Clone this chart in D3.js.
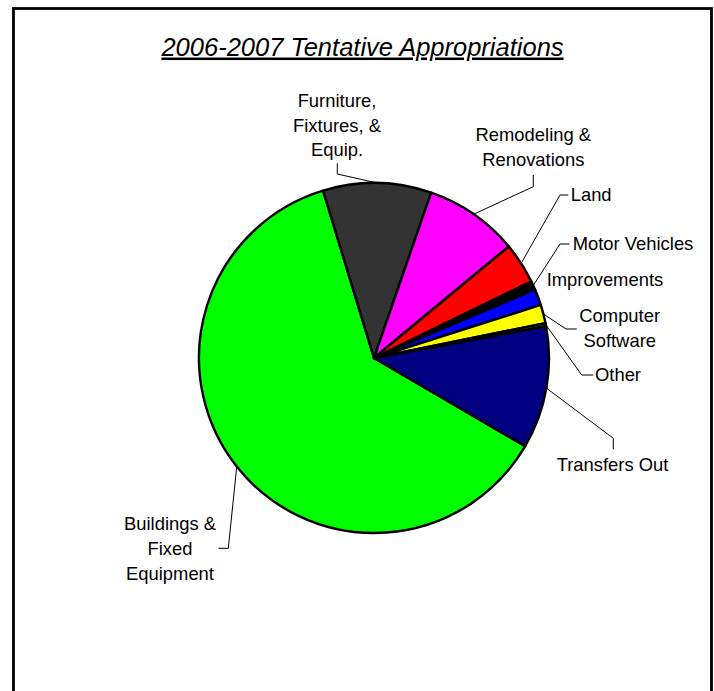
<!DOCTYPE html>
<html>
<head>
<meta charset="utf-8">
<script src="https://cdn.jsdelivr.net/npm/d3@7/dist/d3.min.js"></script>
<style>
  html, body { margin: 0; padding: 0; background: #fff; }
  svg { display: block; font-family: "Liberation Sans", Arial, sans-serif; }
</style>
</head>
<body>
<svg id="chart" width="714" height="691"></svg>
<script>
// Appropriation categories, in drawing order (clockwise)
const categories = [
  "Buildings & Fixed Equipment",
  "Furniture, Fixtures, & Equip.",
  "Remodeling & Renovations",
  "Land",
  "Motor Vehicles",
  "Improvements",
  "Computer Software",
  "Other",
  "Transfers Out"
];
// Share of the total appropriations (percent)
const shares = [61.9, 10.0, 8.7, 3.8, 0.8, 1.5, 1.7, 0.3, 11.3];
const sliceColors = ["#00FF00", "#333333", "#FF00FF", "#FF0000", "#000000",
                     "#0000FF", "#FFFF00", "#008000", "#000080"];
// Label text lines for each category
const labelLines = [
  ["Buildings &", "Fixed", "Equipment"],
  ["Furniture,", "Fixtures, &", "Equip."],
  ["Remodeling &", "Renovations"],
  ["Land"],
  ["Motor Vehicles"],
  ["Improvements"],
  ["Computer", "Software"],
  ["Other"],
  ["Transfers Out"]
];

// Label placement: text anchor point, alignment, and leader-line bends
const labelLayout = [
  { x: 170, y: 524, anchor: "middle", bends: [[228.3, 548.3], [218.3, 548.3]] },
  { x: 337, y: 100.7, anchor: "middle", bends: [[337.3, 174], [337.3, 163.3]] },
  { x: 533.3, y: 135, anchor: "middle", bends: [[533.3, 186.7], [533.3, 175]] },
  { x: 570.7, y: 195, anchor: "start", bends: [[560, 195], [568.3, 195]] },
  { x: 572.7, y: 244, anchor: "start", bends: [[560, 244], [569.3, 244]] },
  { x: 546.7, y: 279.3, anchor: "start", bends: null },
  { x: 619.7, y: 316, anchor: "middle", bends: [[566, 329], [576.7, 329]] },
  { x: 595, y: 375, anchor: "start", bends: [[581.7, 375], [593.3, 375]] },
  { x: 612.5, y: 465, anchor: "middle", bends: [[613.3, 438.3], [613.3, 449.3]] }
];

const data = categories.map((c, i) => ({ name: c, value: shares[i], color: sliceColors[i], lines: labelLines[i], layout: labelLayout[i] }));

const svg = d3.select("#chart");
const cx = 374, cy = 358, radius = 175;
const lineHeight = 24.6;
const fontSize = 18.4;

// Outer frame
svg.append("rect")
  .attr("x", 13.5).attr("y", 8.5)
  .attr("width", 698).attr("height", 720)
  .attr("fill", "#fff")
  .attr("stroke", "#000")
  .attr("stroke-width", 2.8);

// Title
svg.append("text")
  .attr("x", 362.5).attr("y", 55.5)
  .attr("text-anchor", "middle")
  .attr("font-size", 25.5)
  .attr("font-style", "italic")
  .attr("text-decoration", "underline")
  .attr("fill", "#000")
  .text("2006-2007 Tentative Appropriations");

// Pie
const rotation = 120.24 * Math.PI / 180;
const pie = d3.pie().sort(null).value(d => d.value)
  .startAngle(rotation).endAngle(rotation + 2 * Math.PI);
const arcs = pie(data);
const arc = d3.arc().innerRadius(0).outerRadius(radius);
const edgeArc = d3.arc().innerRadius(radius).outerRadius(radius);

const g = svg.append("g").attr("transform", `translate(${cx},${cy})`);
g.selectAll("path.slice")
  .data(arcs)
  .join("path")
  .attr("class", "slice")
  .attr("d", arc)
  .attr("fill", d => d.data.color)
  .attr("stroke", "#000")
  .attr("stroke-width", 2.4)
  .attr("stroke-linejoin", "round");

// Leader lines from the slice's outer edge to its label
const leaders = svg.append("g")
  .attr("fill", "none")
  .attr("stroke", "#000")
  .attr("stroke-width", 1);
arcs.forEach(a => {
  const L = a.data.layout;
  if (!L.bends) return;
  const [ex, ey] = edgeArc.centroid(a);
  const pts = [[cx + ex, cy + ey], ...L.bends];
  leaders.append("path").attr("d", d3.line()(pts));
});

// Labels
const labels = svg.append("g")
  .attr("font-size", fontSize)
  .attr("fill", "#000");
arcs.forEach(a => {
  const L = a.data.layout;
  const t = labels.append("text")
    .attr("text-anchor", L.anchor);
  a.data.lines.forEach((ln, i) => {
    t.append("tspan")
      .attr("x", L.x)
      .attr("y", L.y + i * lineHeight + 6.4)
      .text(ln);
  });
});
</script>
</body>
</html>
